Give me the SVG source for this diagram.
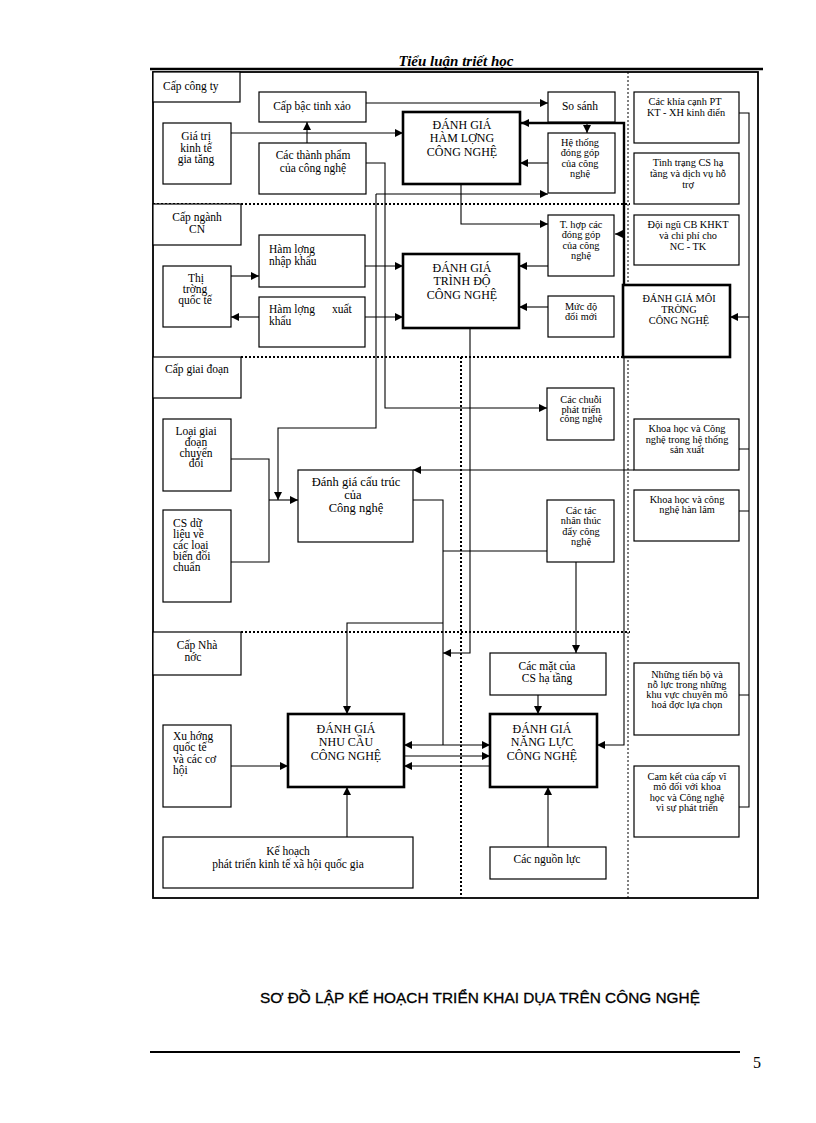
<svg xmlns="http://www.w3.org/2000/svg" width="816" height="1123" viewBox="0 0 816 1123">
<defs>
<style>
.bx{fill:#fff;stroke:#000;stroke-width:1.2}
.tk{fill:#fff;stroke:#000;stroke-width:2.6}
.t{font-family:"Liberation Serif","Times New Roman",serif;font-size:11.5px;fill:#000}
.s{font-family:"Liberation Serif","Times New Roman",serif;font-size:10.3px;fill:#000}
.b{font-family:"Liberation Serif","Times New Roman",serif;font-size:12px;fill:#000}
.c{text-anchor:middle}
.ln{fill:none;stroke:#000;stroke-width:1.1}
.th{fill:none;stroke:#000;stroke-width:2.4}
.dt{fill:none;stroke:#000;stroke-width:2;stroke-dasharray:2 2}
.dv{fill:none;stroke:#000;stroke-width:1;stroke-dasharray:2 2}
</style>
<marker id="ah" viewBox="0 0 10 10" refX="10" refY="5" markerWidth="8" markerHeight="8" markerUnits="userSpaceOnUse" orient="auto"><path d="M0,0 L10,5 L0,10 z" fill="#000"/></marker>
</defs>
<rect width="816" height="1123" fill="#fff"/>

<g id="header">
<text x="456" y="66" text-anchor="middle" font-family="Liberation Serif,serif" font-size="15" font-style="italic" font-weight="bold">Tiểu luận triết học</text>
<line x1="150" y1="69" x2="763" y2="69" stroke="#000" stroke-width="2.6"/>
</g>

<g id="frame">
<rect x="153" y="72" width="605" height="826" fill="none" stroke="#000" stroke-width="1.8"/>
<path class="dt" d="M153,204 H630 M241,357 H630 M241,632 H630"/>
<path class="dv" d="M628,72 V898"/>
<path class="dt" d="M461,357 V898"/>
</g>

<g id="connectors">
<path class="ln" d="M231,133 H403" marker-end="url(#ah)"/>
<path class="ln" d="M307,143 V122" marker-end="url(#ah)"/>
<path class="ln" d="M366,103 H548" marker-end="url(#ah)"/>
<path class="ln" d="M548,163 H520" marker-end="url(#ah)"/>
<path class="th" d="M624,285 V123 H521" marker-end="url(#ah)"/>
<path class="ln" d="M587,123 V133" marker-end="url(#ah)"/>
<path class="ln" d="M624,234 H615" marker-end="url(#ah)"/>
<path class="ln" d="M461,184 V224 H548" marker-end="url(#ah)"/>
<path class="ln" d="M366,163 H385 V408 H547" marker-end="url(#ah)"/>
<path class="ln" d="M376,194 H548" marker-end="url(#ah)"/>
<path class="ln" d="M376,194 V428 H278 V500" marker-end="url(#ah)"/>
<path class="ln" d="M231,276 H259" marker-end="url(#ah)"/>
<path class="ln" d="M259,317 H231" marker-end="url(#ah)"/>
<path class="ln" d="M365,266 H403" marker-end="url(#ah)"/>
<path class="ln" d="M365,317 H403" marker-end="url(#ah)"/>
<path class="ln" d="M548,266 H519" marker-end="url(#ah)"/>
<path class="ln" d="M548,307 H519" marker-end="url(#ah)"/>
<path class="ln" d="M470,328 V653 H443" marker-end="url(#ah)"/>
<path class="ln" d="M231,459 H269 V562 H231"/>
<path class="ln" d="M269,500 H298" marker-end="url(#ah)"/>
<path class="ln" d="M634,470 H413" marker-end="url(#ah)"/>
<path class="ln" d="M413,500 H443 V745"/>
<path class="ln" d="M443,551 H547"/>
<path class="ln" d="M443,623 H347 V714" marker-end="url(#ah)"/>
<path class="ln" d="M576,562 V653" marker-end="url(#ah)"/>
<path class="ln" d="M538,695 V714" marker-end="url(#ah)"/>
<path class="ln" d="M624,357 V745 H597" marker-end="url(#ah)"/>
<path class="ln" d="M443,745 H404" marker-end="url(#ah)"/>
<path class="ln" d="M443,745 H490" marker-end="url(#ah)"/>
<path class="ln" d="M404,756 H490" marker-end="url(#ah)"/>
<path class="ln" d="M490,766 H404" marker-end="url(#ah)"/>
<path class="ln" d="M231,766 H288" marker-end="url(#ah)"/>
<path class="ln" d="M347,837 V787" marker-end="url(#ah)"/>
<path class="ln" d="M548,847 V787" marker-end="url(#ah)"/>
<path class="ln" d="M739,113 H749 V807 H739 M739,449 H749 M739,511 H749 M739,695 H749"/>
<path class="ln" d="M749,317 H730" marker-end="url(#ah)"/>
</g>

<g id="cap-cong-ty"><rect class="bx" x="153" y="72" width="87" height="30"/><text class="t" x="163" y="90">Cấp công ty</text></g>
<g id="cap-bac"><rect class="bx" x="259" y="92" width="107" height="30"/><text class="t c" x="312" y="110">Cấp bậc tinh xảo</text></g>
<g id="gia-tri"><rect class="bx" x="163" y="123" width="68" height="61"/><text class="t c" x="196" y="140">Giá  trị<tspan x="196" dy="11.5">kinh tế</tspan><tspan x="196" dy="11.5">gia tăng</tspan></text></g>
<g id="thanh-pham"><rect class="bx" x="259" y="143" width="107" height="51"/><text class="t c" x="313" y="159">Các thành phẩm<tspan x="313" dy="12.5">của công nghệ</tspan></text></g>
<g id="ham-luong"><rect class="tk" x="403" y="112" width="117" height="72"/><text class="b c" x="462" y="129">ĐÁNH GIÁ<tspan x="462" dy="13.3">HÀM LỢNG</tspan><tspan x="462" dy="13.3">CÔNG NGHỆ</tspan></text></g>
<g id="so-sanh"><rect class="bx" x="548" y="92" width="67" height="30"/><text class="t c" x="580" y="110">So sánh</text></g>
<g id="he-thong"><rect class="bx" x="548" y="133" width="67" height="60"/><text class="s c" x="580" y="146">Hệ thống<tspan x="580" dy="10.3">đóng  góp</tspan><tspan x="580" dy="10.3">của công</tspan><tspan x="580" dy="10.3">nghệ</tspan></text></g>
<g id="khia-canh"><rect class="bx" x="634" y="92" width="105" height="51"/><text class="s c" x="685" y="105">Các khía cạnh PT<tspan x="686" dy="11">KT - XH kinh điển</tspan></text></g>
<g id="tinh-trang"><rect class="bx" x="634" y="153" width="105" height="51"/><text class="s c" x="688" y="166">Tình trạng CS hạ<tspan x="688" dy="11">tầng và dịch vụ hỗ</tspan><tspan x="688" dy="11">trợ</tspan></text></g>
<g id="doi-ngu"><rect class="bx" x="634" y="215" width="105" height="50"/><text class="s c" x="688" y="228">Đội ngũ CB KHKT<tspan x="688" dy="11">và chi phí cho</tspan><tspan x="688" dy="11">NC - TK</tspan></text></g>

<g id="cap-nganh"><rect class="bx" x="153" y="204" width="88" height="41"/><text class="t c" x="197" y="221">Cấp ngành<tspan x="197" dy="11.5">CN</tspan></text></g>
<g id="nhap-khau"><rect class="bx" x="259" y="235" width="106" height="52"/><text class="t" x="269" y="253">Hàm lợng<tspan x="269" dy="12">nhập khẩu</tspan></text></g>
<g id="thi-truong"><rect class="bx" x="163" y="266" width="68" height="61"/><text class="t c" x="196" y="282">Thị<tspan x="195" dy="11">trờng</tspan><tspan x="195" dy="11">quốc tế</tspan></text></g>
<g id="xuat-khau"><rect class="bx" x="259" y="297" width="106" height="50"/><text class="t" x="269" y="313">Hàm lợng<tspan x="332">xuất</tspan><tspan x="269" dy="12">khẩu</tspan></text></g>
<g id="trinh-do"><rect class="tk" x="403" y="254" width="116" height="74"/><text class="b c" x="462" y="272">ĐÁNH GIÁ<tspan x="462" dy="13.3">TRÌNH ĐỘ</tspan><tspan x="462" dy="13.3">CÔNG NGHỆ</tspan></text></g>
<g id="t-hop"><rect class="bx" x="548" y="215" width="66" height="61"/><text class="s c" x="581" y="228">T. hợp  các<tspan x="581" dy="10.3">đóng góp</tspan><tspan x="581" dy="10.3">của công</tspan><tspan x="581" dy="10.3">nghệ</tspan></text></g>
<g id="muc-do"><rect class="bx" x="548" y="296" width="66" height="41"/><text class="s c" x="581" y="310">Mức  độ<tspan x="581" dy="10.3">đổi  mới</tspan></text></g>
<g id="moi-truong"><rect class="tk" x="623" y="285" width="107" height="72"/><text class="s c" x="679" y="302">ĐÁNH GIÁ MÔI<tspan x="679" dy="11">TRỜNG</tspan><tspan x="679" dy="11">CÔNG NGHỆ</tspan></text></g>

<g id="cap-giai-doan"><rect class="bx" x="153" y="357" width="88" height="41"/><text class="t" x="165" y="373">Cấp giai đoạn</text></g>
<g id="cac-chuoi"><rect class="bx" x="547" y="388" width="67" height="52"/><text class="s c" x="581" y="403">Các chuỗi<tspan x="581" dy="9.6">phát triển</tspan><tspan x="581" dy="9.6">công nghệ</tspan></text></g>
<g id="kh-san-xuat"><rect class="bx" x="634" y="419" width="105" height="51"/><text class="s c" x="687" y="432">Khoa học  và Công<tspan x="687" dy="10.5">nghệ trong hệ thống</tspan><tspan x="687" dy="10.5">sản xuất</tspan></text></g>
<g id="loai-giai-doan"><rect class="bx" x="163" y="419" width="68" height="72"/><text class="t c" x="196" y="435">Loại giai<tspan x="196" dy="10.8">đoạn</tspan><tspan x="196" dy="10.8">chuyển</tspan><tspan x="196" dy="10.8">đổi</tspan></text></g>
<g id="cau-truc"><rect class="bx" x="298" y="470" width="115" height="72"/><text class="b c" x="356" y="486" style="font-size:12.5px">Đánh giá cấu trúc<tspan x="353" dy="13">của</tspan><tspan x="356" dy="13">Công nghệ</tspan></text></g>
<g id="cs-du-lieu"><rect class="bx" x="163" y="510" width="68" height="92"/><text class="t" x="173" y="527">CS dữ<tspan x="173" dy="11">liệu về</tspan><tspan x="173" dy="11">các loại</tspan><tspan x="173" dy="11">biến đổi</tspan><tspan x="173" dy="11">chuẩn</tspan></text></g>
<g id="tac-nhan"><rect class="bx" x="547" y="500" width="67" height="62"/><text class="s c" x="581" y="514">Các tác<tspan x="581" dy="10.3">nhân thúc</tspan><tspan x="581" dy="10.3">đẩy công</tspan><tspan x="581" dy="10.3">nghệ</tspan></text></g>
<g id="kh-han-lam"><rect class="bx" x="634" y="490" width="105" height="51"/><text class="s c" x="687" y="503">Khoa học và công<tspan x="687" dy="10.3">nghệ hàn lâm</tspan></text></g>

<g id="cap-nha-nuoc"><rect class="bx" x="153" y="632" width="88" height="43"/><text class="t c" x="197" y="649">Cấp Nhà<tspan x="193" dy="12">nớc</tspan></text></g>
<g id="cac-mat"><rect class="bx" x="490" y="653" width="116" height="42"/><text class="t c" x="547" y="670">Các mặt của<tspan x="547" dy="12">CS hạ tầng</tspan></text></g>
<g id="nhung-tien-bo"><rect class="bx" x="634" y="663" width="105" height="72"/><text class="s c" x="687" y="678">Những tiến bộ và<tspan x="687" dy="10">nỗ lực trong những</tspan><tspan x="687" dy="10">khu vực chuyên mô</tspan><tspan x="687" dy="10">hoá đợc   lựa chọn</tspan></text></g>
<g id="xu-huong"><rect class="bx" x="163" y="725" width="68" height="82"/><text class="t" x="173" y="740">Xu hớng<tspan x="173" dy="11.3">quốc tế</tspan><tspan x="173" dy="11.3">và các cơ</tspan><tspan x="173" dy="11.3">hội</tspan></text></g>
<g id="nhu-cau"><rect class="tk" x="288" y="714" width="116" height="73"/><text class="b c" x="346" y="733">ĐÁNH GIÁ<tspan x="346" dy="13.3">NHU CẦU</tspan><tspan x="346" dy="13.3">CÔNG NGHỆ</tspan></text></g>
<g id="nang-luc"><rect class="tk" x="490" y="714" width="107" height="73"/><text class="b c" x="542" y="733">ĐÁNH GIÁ<tspan x="542" dy="13.3">NĂNG LỰC</tspan><tspan x="542" dy="13.3">CÔNG NGHỆ</tspan></text></g>
<g id="cam-ket"><rect class="bx" x="634" y="766" width="105" height="71"/><text class="s c" x="687" y="780">Cam kết của cấp vĩ<tspan x="687" dy="10.3">mô đối với khoa</tspan><tspan x="687" dy="10.3">học và Công nghệ</tspan><tspan x="687" dy="10.3">vì sự phát triển</tspan></text></g>
<g id="ke-hoach"><rect class="bx" x="163" y="837" width="250" height="51"/><text class="t c" x="288" y="855">Kế hoạch<tspan x="288" dy="13">phát triển kinh tế xã hội quốc gia</tspan></text></g>
<g id="nguon-luc"><rect class="bx" x="490" y="847" width="116" height="32"/><text class="t c" x="547" y="863">Các nguồn lực</text></g>

<g id="title">
<text x="480" y="1003" text-anchor="middle" font-family="Liberation Sans,Arial,sans-serif" font-size="15.4" fill="#000" stroke="#000" stroke-width="0.3">SƠ ĐỒ LẬP KẾ HOẠCH TRIỂN KHAI DỤA TRÊN CÔNG NGHỆ</text>
</g>
<g id="footer">
<line x1="150" y1="1052" x2="740" y2="1052" stroke="#000" stroke-width="2"/>
<text x="753" y="1068" font-family="Liberation Serif,serif" font-size="16" fill="#000">5</text>
</g>
</svg>
